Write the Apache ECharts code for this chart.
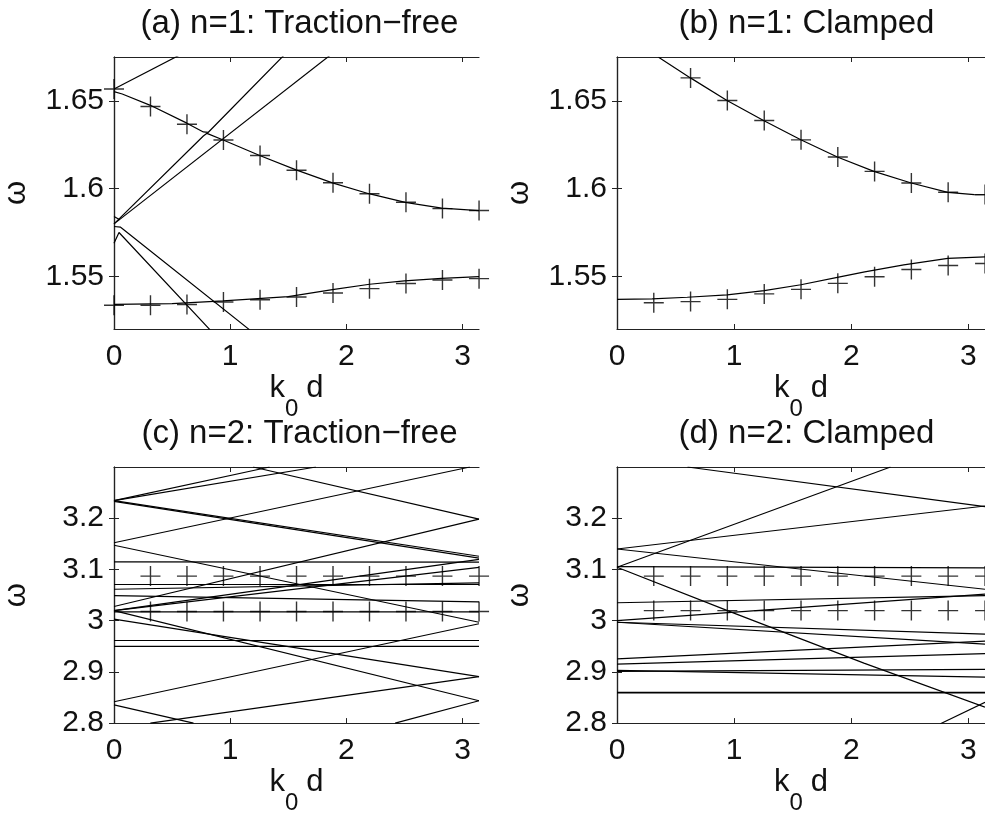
<!DOCTYPE html>
<html>
<head>
<meta charset="utf-8">
<title>Dispersion curves</title>
<script src="https://cdn.jsdelivr.net/npm/echarts@6/dist/echarts.min.js"></script>
<style>
  html, body { margin: 0; padding: 0; background: #fff; }
  #chart { width: 985px; height: 816px; }
</style>
</head>
<body>
<div id="chart"></div>
<script>
// k0 d positions of the '+' markers
const markK = [0, 0.314, 0.628, 0.942, 1.257, 1.571, 1.885, 2.199, 2.513, 2.827, 3.142]

// (a) n=1 traction-free
const aUpperMarks = [1.6568, 1.6468, 1.6367, 1.6277, 1.6189, 1.6105, 1.6033, 1.5971, 1.5922, 1.5886, 1.5875]
const aLowerMarks = [1.5335, 1.5335, 1.5340, 1.5354, 1.5367, 1.5382, 1.5405, 1.5430, 1.5459, 1.5479, 1.5487]
const aLines = [
  [[0, 1.6553], [0.071, 1.6539], [0.308, 1.6476], [0.627, 1.6373], [0.769, 1.6323], [0.812, 1.6321], [1.467, 1.6763]],
  [[0, 1.5799], [0.769, 1.6300], [0.80, 1.6315], [0.94, 1.6277], [1.254, 1.6189], [1.567, 1.6107], [1.88, 1.6033],
    [2.194, 1.5971], [2.507, 1.5922], [2.821, 1.5889], [3.1416, 1.5875]],
  [[0, 1.6568], [0.57, 1.6763]],
  [[0, 1.5799], [1.866, 1.6763]],
  [[0, 1.5841], [0.05, 1.5822]],
  [[0, 1.5784], [0.057, 1.5780], [1.168, 1.5195]],
  [[0, 1.5688], [0.043, 1.5750], [0.827, 1.5195]],
  [[0, 1.5340], [0.5, 1.5345], [0.94, 1.5360], [1.5, 1.5385], [1.88, 1.5424], [2.2, 1.5455], [2.5, 1.5474],
    [2.82, 1.5488], [3.1416, 1.5498]]
]

// (b) n=1 clamped
const bUpperMarks = [null, null, 1.6631, 1.6502, 1.6388, 1.6278, 1.6180, 1.6098, 1.6032, 1.5979, 1.5966]
const bLowerMarks = [null, 1.5350, 1.5356, 1.5369, 1.5400, 1.5426, 1.5460, 1.5498, 1.5539, 1.5562, 1.5573]
const bLines = [
  [[0.355, 1.6748], [0.627, 1.6631], [0.939, 1.6502], [1.251, 1.6388], [1.569, 1.6278], [1.881, 1.6180],
    [2.193, 1.6098], [2.512, 1.6032], [2.824, 1.5979], [3.05, 1.5966], [3.1416, 1.5965]],
  [[0, 1.5369], [0.3, 1.5372], [0.6, 1.5381], [0.94, 1.5395], [1.257, 1.5419], [1.57, 1.5452], [1.881, 1.5494],
    [2.115, 1.5526], [2.448, 1.5565], [2.824, 1.5602], [3.1416, 1.5611]]
]

// (c) n=2 traction-free
const cUpperMarks = [null, 3.087, 3.087, 3.087, 3.087, 3.087, 3.087, 3.087, 3.087, 3.087, 3.087]
const cLowerMarks = [null, 3.018, 3.018, 3.018, 3.018, 3.018, 3.018, 3.018, 3.018, 3.018, 3.018]
const cLines = [
  [[0, 3.2344], [1.339, 3.3]],
  [[0, 3.2344], [1.738, 3.3]],
  [[1.197, 3.3], [3.1416, 3.1982]],
  [[0, 3.1521], [3.063, 3.3]],
  [[0, 3.2344], [3.1416, 3.1258]],
  [[0, 3.2330], [3.1416, 3.1220]],
  [[0, 3.1472], [3.1416, 2.9969]],
  [[0, 3.1147], [3.1416, 3.1141]],
  [[0, 3.0276], [3.1416, 3.1982]],
  [[0, 3.0196], [3.1416, 3.1196]],
  [[0, 3.0196], [3.1416, 3.1040]],
  [[0, 3.0706], [3.1416, 3.0706]],
  [[0, 3.0613], [3.1416, 3.0736]],
  [[0, 3.0490], [3.1416, 3.0368]],
  [[0, 3.0172], [3.1416, 3.0172]],
  [[0, 3.0031], [3.1416, 2.8908]],
  [[0, 3.0196], [3.1416, 2.8436]],
  [[0, 2.9613], [3.1416, 2.9613]],
  [[0, 2.9497], [3.1416, 2.9497]],
  [[0, 2.8417], [3.1416, 2.9939]],
  [[0, 2.8356], [0.684, 2.8]],
  [[0.313, 2.8], [3.1416, 2.8908]],
  [[2.42, 2.8], [3.1416, 2.8436]]
]

// (d) n=2 clamped
const dUpperMarks = [null, 3.087, 3.087, 3.087, 3.087, 3.087, 3.087, 3.087, 3.087, 3.087, 3.087]
const dLowerMarks = [null, 3.0196, 3.0196, 3.0196, 3.0196, 3.0196, 3.0196, 3.0196, 3.0196, 3.0196, 3.0196]
const dLines = [
  [[0.602, 3.3], [3.1416, 3.2227]],
  [[0, 3.1043], [2.335, 3.3]],
  [[0, 3.1399], [3.1416, 3.2239]],
  [[0, 3.1399], [3.1416, 3.0613]],
  [[0, 3.1055], [3.1416, 3.1031]],
  [[0, 3.1043], [0.943, 3.0196], [2.108, 2.9172], [3.1416, 2.8313]],
  [[2.761, 2.7988], [3.1416, 2.8405]],
  [[0, 3.0350], [3.1416, 3.0490]],
  [[0, 3.0000], [3.1416, 3.0520]],
  [[0, 2.9969], [3.1416, 2.9736]],
  [[0, 2.9969], [3.1416, 2.9540]],
  [[0, 2.9252], [3.1416, 2.9601]],
  [[0, 2.9153], [3.1416, 2.9356]],
  [[0, 2.9031], [3.1416, 2.8896]],
  [[0, 2.9010], [3.1416, 2.9050]],
  [[0, 2.8589], [3.1416, 2.8589]],
  [[0, 2.8600], [3.1416, 2.8600]]
]

const titles = ['(a) n=1: Traction\u2212free', '(b) n=1: Clamped', '(c) n=2: Traction\u2212free', '(d) n=2: Clamped']
const xTicks = [0, 1, 2, 3]
const yTicksTop = [1.55, 1.6, 1.65]
const yTicksBottom = [2.8, 2.9, 3, 3.1, 3.2]

const font = 'Liberation Sans, Arial, Helvetica, sans-serif'
const panels = [
  { left: 110, top: 57, yMin: 1.52, yMax: 1.675, yTicks: yTicksTop },
  { left: 617, top: 57, yMin: 1.52, yMax: 1.675, yTicks: yTicksTop },
  { left: 110, top: 467, yMin: 2.8, yMax: 3.3, yTicks: yTicksBottom },
  { left: 617, top: 467, yMin: 2.8, yMax: 3.3, yTicks: yTicksBottom }
]
const W = 369
const H = 272

const plus = 'path://M10,0 L10,20 M0,10 L20,10'

const marks = (vals) => markK.map((k, i) => [k, vals[i]]).filter(p => p[1] !== null)

const lineSeries = (lines, idx) => lines.map(pts => ({
  type: 'line',
  xAxisIndex: idx,
  yAxisIndex: idx,
  data: pts,
  showSymbol: false,
  clip: true,
  silent: true,
  lineStyle: { color: '#000', width: 1.2 }
}))

const markSeries = (vals, idx) => ({
  type: 'scatter',
  xAxisIndex: idx,
  yAxisIndex: idx,
  data: marks(vals),
  symbol: plus,
  symbolSize: 20,
  silent: true,
  itemStyle: { color: 'transparent', borderColor: '#000', borderWidth: 1.4 }
})

const tickStyle = { inside: true, length: 5, lineStyle: { color: '#222', width: 1 } }
const axisLine = { show: true, lineStyle: { color: '#222', width: 1.2 } }

const grid = panels.map(p => ({ left: p.left, top: p.top, width: W, height: H }))

const xAxis = []
const yAxis = []
panels.forEach((p, i) => {
  xAxis.push({
    type: 'value', gridIndex: i, min: 0, max: Math.PI, position: 'bottom',
    axisLine, splitLine: { show: false },
    axisTick: { ...tickStyle, customValues: xTicks },
    axisLabel: { customValues: xTicks, fontSize: 30, fontFamily: font, color: '#111', margin: 13 },
    name: '{t|k}{s|0}{t|d}',
    nameLocation: 'middle',
    nameGap: 31,
    nameTextStyle: {
      rich: {
        t: { fontSize: 31, fontFamily: font, color: '#111', verticalAlign: 'top' },
        s: { fontSize: 24, fontFamily: font, color: '#111', verticalAlign: 'top', padding: [24, 8, 0, 0] }
      }
    }
  })
  yAxis.push({
    type: 'value', gridIndex: i, min: p.yMin, max: p.yMax, position: 'left',
    axisLine, splitLine: { show: false },
    axisTick: { ...tickStyle, customValues: p.yTicks },
    axisLabel: { customValues: p.yTicks, fontSize: 30, fontFamily: font, color: '#111', margin: 10,
      formatter: v => String(+v.toFixed(2)) },
    name: '\u03c9',
    nameLocation: 'middle',
    nameRotate: 90,
    nameGap: 82,
    nameTextStyle: { fontSize: 31, fontFamily: font, color: '#111' }
  })
})
panels.forEach((p, i) => {
  xAxis.push({
    type: 'value', gridIndex: i, min: 0, max: Math.PI, position: 'top',
    axisLine, splitLine: { show: false },
    axisTick: { ...tickStyle, customValues: xTicks },
    axisLabel: { show: false }
  })
  yAxis.push({
    type: 'value', gridIndex: i, min: p.yMin, max: p.yMax, position: 'right',
    axisLine, splitLine: { show: false },
    axisTick: { ...tickStyle, customValues: p.yTicks },
    axisLabel: { show: false }
  })
})

const title = panels.map((p, i) => ({
  text: titles[i],
  left: p.left + W / 2,
  top: p.top - 55,
  textAlign: 'center',
  textStyle: { fontSize: 33, fontWeight: 'normal', fontFamily: font, color: '#111' }
}))

const series = [
  ...lineSeries(aLines, 0), markSeries(aUpperMarks, 0), markSeries(aLowerMarks, 0),
  ...lineSeries(bLines, 1), markSeries(bUpperMarks, 1), markSeries(bLowerMarks, 1),
  ...lineSeries(cLines, 2), markSeries(cUpperMarks, 2), markSeries(cLowerMarks, 2),
  ...lineSeries(dLines, 3), markSeries(dUpperMarks, 3), markSeries(dLowerMarks, 3)
]

const chart = echarts.init(document.getElementById('chart'))
chart.setOption({
  backgroundColor: '#fff',
  animation: false,
  title,
  grid,
  xAxis,
  yAxis,
  series
})
</script>
</body>
</html>
